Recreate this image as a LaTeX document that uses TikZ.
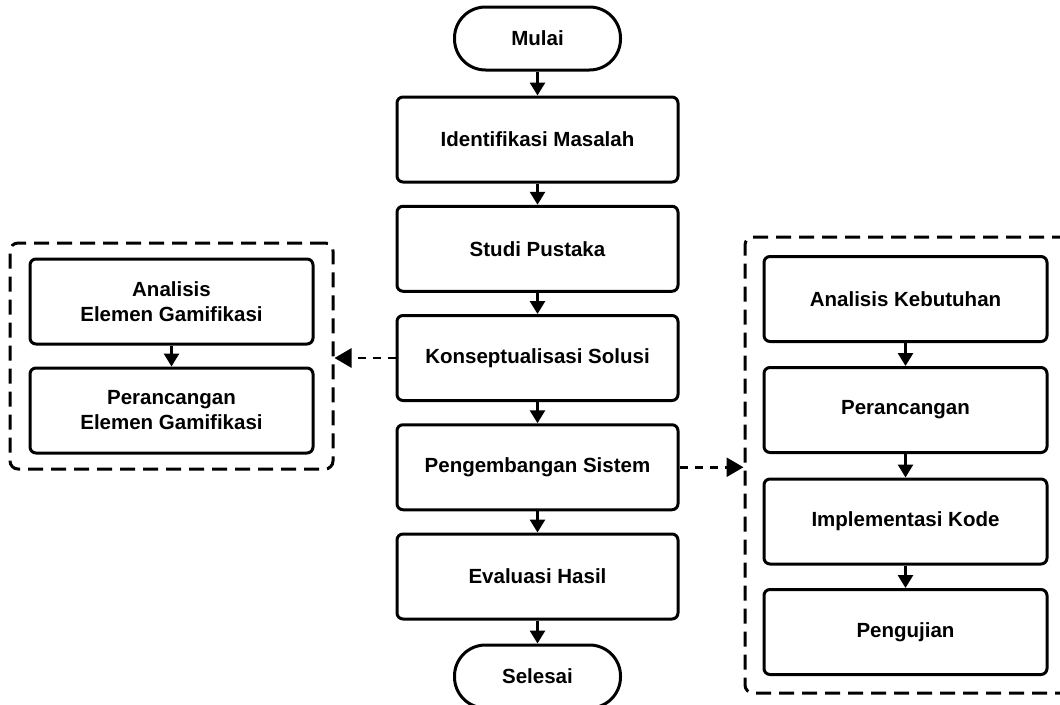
\documentclass[tikz,border=0pt]{standalone}
\usepackage{fontspec}
\setmainfont{Liberation Sans}
\usepackage{tikz}
\usetikzlibrary{arrows.meta, positioning}

\tikzset{
	stepbox/.style={draw, line width=3pt, rounded corners=6pt, minimum width=281pt, minimum height=85pt, align=center, font=\bfseries\fontsize{20.5}{25}\selectfont},
	terminal/.style={stepbox, rounded corners=31pt, minimum width=166pt, minimum height=63pt},
	groupbox/.style={draw, line width=3pt, rounded corners=8pt, dash pattern=on 15pt off 8pt},
	flow/.style={line width=2.8pt, -{Triangle[length=13pt, width=15pt]}},
	link/.style={line width=2.8pt, dash pattern=on 8pt off 7pt, -{Triangle[length=17pt, width=19pt]}},
}

\begin{document}
\begin{tikzpicture}[x=1pt, y=-1pt]
	\fill[white] (0, 0) rectangle (1060, 704);
	\useasboundingbox (0, 0) rectangle (1060, 704);
	% Main column:
	\node[terminal] (mulai) at (537.5, 38.5){Mulai};
	\node[stepbox] (identifikasi) at (537.5, 139.5){Identifikasi Masalah};
	\node[stepbox] (studi) at (537.5, 248.75){Studi Pustaka};
	\node[stepbox] (konsep) at (537.5, 358){Konseptualisasi Solusi};
	\node[stepbox] (pengembangan) at (537.5, 467.25){Pengembangan Sistem};
	\node[stepbox] (evaluasi) at (537.5, 576.5){Evaluasi Hasil};
	\node[terminal] (selesai) at (537.5, 676.5){Selesai};
	\draw[flow] (mulai) -- (identifikasi);
	\draw[flow] (identifikasi) -- (studi);
	\draw[flow] (studi) -- (konsep);
	\draw[flow] (konsep) -- (pengembangan);
	\draw[flow] (pengembangan) -- (evaluasi);
	\draw[flow] (evaluasi) -- (selesai);
	% Left group:
	\node[groupbox, minimum width=323pt, minimum height=226pt] (grpL) at (171.5, 356){};
	\node[stepbox, minimum width=283pt] (analisisGam) at (171.5, 301.5){Analisis\\Elemen Gamifikasi};
	\node[stepbox, minimum width=283pt] (rancangGam) at (171.5, 410.5){Perancangan\\Elemen Gamifikasi};
	\draw[flow] (analisisGam) -- (rancangGam);
	\draw[link] (konsep.west) -- (konsep.west -| grpL.east);
	% Right group:
	\node[groupbox, minimum width=330pt, minimum height=456pt] (grpR) at (910, 465){};
	\node[stepbox, minimum width=283pt] (kebutuhan) at (905.5, 299){Analisis Kebutuhan};
	\node[stepbox, minimum width=283pt] (rancang) at (905.5, 410){Perancangan};
	\node[stepbox, minimum width=283pt] (kode) at (905.5, 521.5){Implementasi Kode};
	\node[stepbox, minimum width=283pt] (uji) at (905.5, 632){Pengujian};
	\draw[flow] (kebutuhan) -- (rancang);
	\draw[flow] (rancang) -- (kode);
	\draw[flow] (kode) -- (uji);
	\draw[link] (pengembangan.east) -- (pengembangan.east -| grpR.west);
\end{tikzpicture}
\end{document}
